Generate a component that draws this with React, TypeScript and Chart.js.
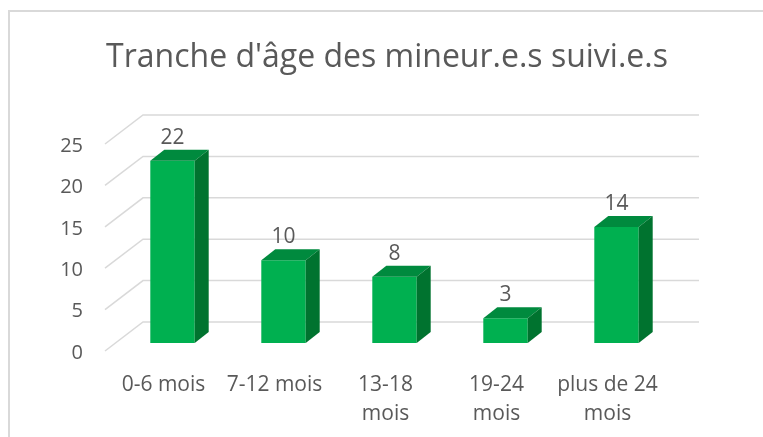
import { useEffect, useRef } from "react";
import { Chart, registerables } from "chart.js";

Chart.register(...registerables);

const TITLE = "Tranche d'âge des mineur.e.s suivi.e.s";
const CATEGORIES: (string | string[])[] = [
  "0-6 mois",
  "7-12 mois",
  ["13-18", "mois"],
  ["19-24", "mois"],
  ["plus de 24", "mois"],
];
const VALUES: number[] = [22, 10, 8, 3, 14];
const Y_MIN = 0;
const Y_MAX = 25;
const Y_STEP = 5;

const FONT = "'Open Sans', 'DejaVu Sans', sans-serif";
const TEXT_COLOR = "#595959";
const GRID_COLOR = "#d9d9d9";
const FRONT_COLOR = "#00b050";
const TOP_COLOR = "#008a3e";
const SIDE_COLOR = "#00732f";

// 3D geometry (pixels)
const DEPTH_DX = 14;
const DEPTH_DY = -11;
const WALL_BACK_DX = 26;
const WALL_BACK_DY = -21;
const WALL_FRONT_DX = -12;
const WALL_FRONT_DY = 8;

const deco3d = {
  id: "deco3d",
  beforeDraw(chart: any) {
    const { ctx, width, height } = chart;
    ctx.save();
    ctx.fillStyle = "#ffffff";
    ctx.fillRect(0, 0, width, height);
    ctx.strokeStyle = GRID_COLOR;
    ctx.lineWidth = 2;
    ctx.strokeRect(9, 11, width + 40, height + 40);
    ctx.fillStyle = TEXT_COLOR;
    ctx.font = `32px ${FONT}`;
    ctx.textAlign = "center";
    ctx.textBaseline = "alphabetic";
    ctx.fillText(TITLE, 387, 67);
    ctx.restore();
  },
  beforeDatasetsDraw(chart: any) {
    const { ctx, chartArea } = chart;
    const ys = chart.scales.y;
    ctx.save();
    ctx.strokeStyle = GRID_COLOR;
    ctx.lineWidth = 1.5;
    ys.ticks.forEach((t: any) => {
      const y = ys.getPixelForValue(t.value);
      ctx.beginPath();
      ctx.moveTo(chartArea.left + WALL_FRONT_DX, y + WALL_FRONT_DY);
      ctx.lineTo(chartArea.left + WALL_BACK_DX, y + WALL_BACK_DY);
      ctx.lineTo(chartArea.right + WALL_BACK_DX + 1, y + WALL_BACK_DY);
      ctx.stroke();
    });
    ctx.restore();
  },
  afterDatasetsDraw(chart: any) {
    const { ctx } = chart;
    const meta = chart.getDatasetMeta(0);
    const data = chart.data.datasets[0].data;
    ctx.save();
    meta.data.forEach((bar: any, i: number) => {
      const { x, y, base, width } = bar.getProps(["x", "y", "base", "width"], true);
      const l = x - width / 2;
      const r = x + width / 2;
      // top face
      ctx.fillStyle = TOP_COLOR;
      ctx.beginPath();
      ctx.moveTo(l, y);
      ctx.lineTo(l + DEPTH_DX, y + DEPTH_DY);
      ctx.lineTo(r + DEPTH_DX, y + DEPTH_DY);
      ctx.lineTo(r, y);
      ctx.closePath();
      ctx.fill();
      // side face
      ctx.fillStyle = SIDE_COLOR;
      ctx.beginPath();
      ctx.moveTo(r, y);
      ctx.lineTo(r + DEPTH_DX, y + DEPTH_DY);
      ctx.lineTo(r + DEPTH_DX, base + DEPTH_DY);
      ctx.lineTo(r, base);
      ctx.closePath();
      ctx.fill();
      // value label
      ctx.fillStyle = TEXT_COLOR;
      ctx.font = `21px ${FONT}`;
      ctx.textAlign = "center";
      ctx.textBaseline = "middle";
      ctx.fillText(String(data[i]), x, y + DEPTH_DY - 12);
    });
    ctx.restore();
  },
};

export default function App() {
  const ref = useRef<HTMLCanvasElement | null>(null);
  useEffect(() => {
    if (!ref.current) return;
    const chart = new Chart(ref.current, {
      type: "bar",
      data: {
        labels: CATEGORIES,
        datasets: [
          {
            data: VALUES,
            backgroundColor: FRONT_COLOR,
            borderWidth: 0,
            categoryPercentage: 1,
            barPercentage: 0.4,
          },
        ],
      },
      options: {
        animation: false,
        responsive: false,
        devicePixelRatio: 1,
        layout: { padding: { left: 60, right: 91, top: 136, bottom: 8 } },
        plugins: {
          legend: { display: false },
          title: { display: false },
          tooltip: { enabled: false },
        },
        scales: {
          x: {
            grid: { display: false, drawTicks: false },
            border: { display: false },
            ticks: {
              color: TEXT_COLOR,
              font: { family: FONT, size: 21, lineHeight: 1.38 },
              padding: 28,
              labelOffset: -9,
              maxRotation: 0,
              autoSkip: false,
            },
            afterFit(scale: any) {
              scale.height = 86;
            },
          },
          y: {
            min: Y_MIN,
            max: Y_MAX,
            grid: { display: false, drawTicks: false },
            border: { display: false },
            ticks: {
              stepSize: Y_STEP,
              color: TEXT_COLOR,
              font: { family: FONT, size: 20 },
              padding: 34,
              labelOffset: 10,
            },
            afterFit(scale: any) {
              scale.width = 57;
            },
          },
        },
      },
      plugins: [deco3d],
    });
    return () => chart.destroy();
  }, []);
  return (
    <canvas
      ref={ref}
      width={763}
      height={437}
      style={{ position: "fixed", left: 0, top: 0, display: "block" }}
    />
  );
}
